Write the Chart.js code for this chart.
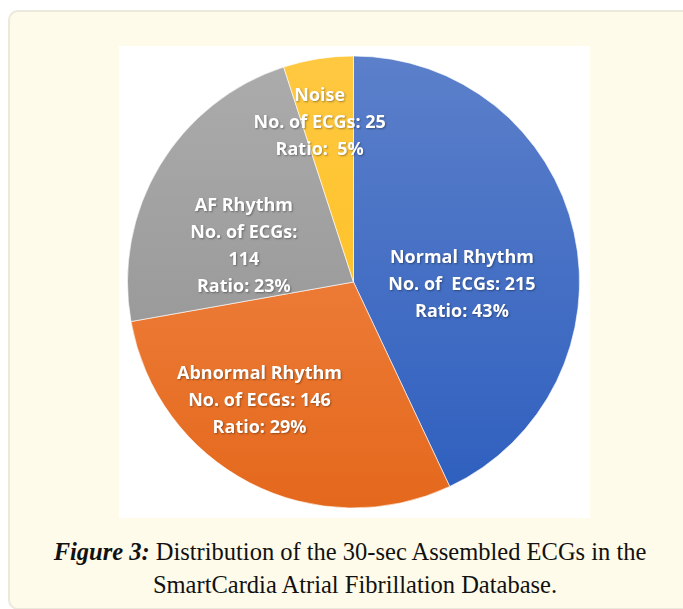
<!DOCTYPE html>
<html>
<head>
<meta charset="utf-8">
<script src="https://cdn.jsdelivr.net/npm/chart.js@4.4.1/dist/chart.umd.min.js"></script>
<style>
  html, body { margin: 0; padding: 0; background: #fff; width: 683px; height: 609px; overflow: hidden; }
  #card {
    position: absolute; left: 8px; top: 10px; width: 720px; height: 596px;
    background: #fefbea; border: 2px solid #ebe8dc; border-radius: 10px;
  }
  #plot { position: absolute; left: 119px; top: 46px; width: 471px; height: 472px; background: #fff; }
  .cap {
    position: absolute; white-space: nowrap; color: #111;
    font-family: "Liberation Serif", "DejaVu Serif", serif; font-size: 24.5px; line-height: 30px;
    transform: translateX(-50%);
  }
  .cap b { font-style: italic; }
</style>
</head>
<body>
<div id="card"></div>
<div id="plot"><canvas id="pie"></canvas></div>
<div class="cap" style="left:350px; top:537px;"><b>Figure 3:</b> Distribution of the 30-sec Assembled ECGs in the</div>
<div class="cap" style="left:355px; top:570px;">SmartCardia Atrial Fibrillation Database.</div>
<script>
// data
const categories = ['Normal Rhythm', 'Abnormal Rhythm', 'AF Rhythm', 'Noise'];
const ecgCounts  = [215, 146, 114, 25];
const ratios     = ['43%', '29%', '23%', '5%'];

// slice colours (top -> bottom of the gradient)
const topColors    = ['#5c80ca', '#f48d4f', '#acacac', '#fec841'];
const bottomColors = ['#2d5ebe', '#e4681c', '#8e8e8e', '#ffbd14'];

// label placement: [fraction of radius, angle shift in degrees]
const labelPlace = [[0.48, 14], [0.67, 11], [0.51, -13], [0.72, -3]];

function labelLines(i){
  const name = categories[i], n = ecgCounts[i], r = ratios[i];
  if (i === 0) return [name, 'No. of  ECGs: ' + n, 'Ratio: ' + r];
  if (i === 2) return [name, 'No. of ECGs:', String(n), 'Ratio: ' + r];
  if (i === 3) return [name, 'No. of ECGs: ' + n, 'Ratio:  ' + r];
  return [name, 'No. of ECGs: ' + n, 'Ratio: ' + r];
}

const sliceLabels = {
  id: 'sliceLabels',
  afterDatasetsDraw(chart){
    const ctx = chart.ctx;
    const meta = chart.getDatasetMeta(0);
    ctx.save();
    ctx.font = 'bold 18px "Open Sans", Lato, sans-serif';
    ctx.fillStyle = '#fff';
    ctx.textAlign = 'center';
    ctx.textBaseline = 'middle';
    ctx.shadowColor = 'rgba(0,0,0,0.35)';
    ctx.shadowBlur = 2;
    ctx.shadowOffsetX = 1;
    ctx.shadowOffsetY = 1;
    meta.data.forEach((arc, i) => {
      const p = arc.getProps(['x', 'y', 'startAngle', 'endAngle', 'outerRadius'], true);
      const [frac, shift] = labelPlace[i];
      const a = (p.startAngle + p.endAngle) / 2 + shift * Math.PI / 180;
      const cx = p.x + Math.cos(a) * p.outerRadius * frac;
      const cy = p.y + Math.sin(a) * p.outerRadius * frac;
      const lines = labelLines(i);
      const lh = 27;
      lines.forEach((t, k) => {
        ctx.fillText(t, cx, cy + (k - (lines.length - 1) / 2) * lh);
      });
    });
    ctx.restore();
  }
};

new Chart(document.getElementById('pie'), {
  type: 'pie',
  data: {
    labels: categories,
    datasets: [{
      data: ecgCounts,
      backgroundColor: (c) => {
        const area = c.chart.chartArea;
        const i = c.dataIndex;
        if (!area) return topColors[i];
        const g = c.chart.ctx.createLinearGradient(0, area.top, 0, area.bottom);
        g.addColorStop(0, topColors[i]);
        g.addColorStop(1, bottomColors[i]);
        return g;
      },
      borderColor: 'rgba(255,255,255,0.6)',
      borderWidth: 1
    }]
  },
  options: {
    responsive: true,
    maintainAspectRatio: false,
    animation: false,
    layout: { padding: { left: 8, right: 10, top: 8, bottom: 8 } },
    plugins: { legend: { display: false }, tooltip: { enabled: false } }
  },
  plugins: [sliceLabels]
});
</script>
</body>
</html>
